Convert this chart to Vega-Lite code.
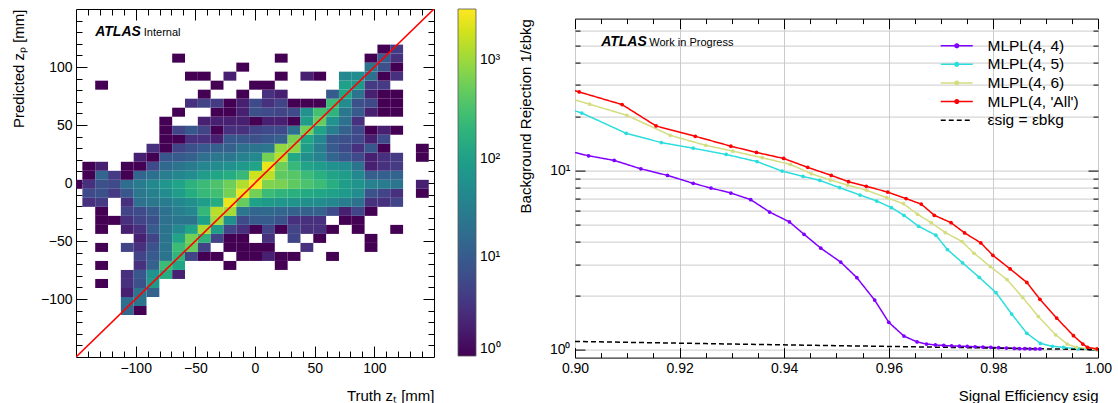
{
  "$schema": "https://vega.github.io/schema/vega-lite/v6.json",
  "padding": {"left": 10, "top": 3, "right": 0, "bottom": 0},
  "background": "white",
  "config": {
    "font": "Liberation Sans",
    "view": {"stroke": "black", "strokeWidth": 1},
    "axis": {"domain": false, "grid": false, "tickColor": "black", "tickWidth": 1, "labelColor": "black", "titleColor": "black", "labelFontSize": 14, "titleFontSize": 15, "titleFontWeight": "normal", "labelFlush": false, "labelOverlap": false, "labelFont": "Liberation Sans", "titleFont": "Liberation Sans"},
    "legend": {"labelFont": "Liberation Sans", "labelColor": "black"}
  },
  "datasets": {
    "hist": [
      {"x":-107.03,"y":-109.92,"n":15},{"x":-96.28,"y":-109.92,"n":1},
      {"x":-107.03,"y":-102.15,"n":18},{"x":-96.28,"y":-102.15,"n":22},
      {"x":-107.03,"y":-94.38,"n":2},{"x":-96.28,"y":-94.38,"n":22},{"x":-85.53,"y":-94.38,"n":12},
      {"x":-128.53,"y":-86.61,"n":1},{"x":-107.03,"y":-86.61,"n":3},{"x":-96.28,"y":-86.61,"n":7},{"x":-85.53,"y":-86.61,"n":80},
      {"x":-107.03,"y":-78.84,"n":3},{"x":-96.28,"y":-78.84,"n":9},{"x":-85.53,"y":-78.84,"n":60},{"x":-74.78,"y":-78.84,"n":150},{"x":-64.03,"y":-78.84,"n":2},
      {"x":-128.53,"y":-71.07,"n":1},{"x":-96.28,"y":-71.07,"n":3},{"x":-85.53,"y":-71.07,"n":12},{"x":-74.78,"y":-71.07,"n":250},{"x":-64.03,"y":-71.07,"n":120},{"x":-21.03,"y":-71.07,"n":1},{"x":21.97,"y":-71.07,"n":1},
      {"x":-96.28,"y":-63.3,"n":5},{"x":-85.53,"y":-63.3,"n":10},{"x":-74.78,"y":-63.3,"n":22},{"x":-64.03,"y":-63.3,"n":200},{"x":-53.28,"y":-63.3,"n":5},{"x":-42.53,"y":-63.3,"n":1},{"x":-31.78,"y":-63.3,"n":1},{"x":-10.28,"y":-63.3,"n":1},{"x":0.47,"y":-63.3,"n":1},{"x":11.22,"y":-63.3,"n":2},{"x":21.97,"y":-63.3,"n":1},{"x":32.72,"y":-63.3,"n":1},{"x":64.97,"y":-63.3,"n":1},
      {"x":-128.53,"y":-55.53,"n":1},{"x":-107.03,"y":-55.53,"n":5},{"x":-96.28,"y":-55.53,"n":3},{"x":-85.53,"y":-55.53,"n":8},{"x":-74.78,"y":-55.53,"n":22},{"x":-64.03,"y":-55.53,"n":250},{"x":-53.28,"y":-55.53,"n":500},{"x":-42.53,"y":-55.53,"n":5},{"x":-21.03,"y":-55.53,"n":1},{"x":-10.28,"y":-55.53,"n":1},{"x":0.47,"y":-55.53,"n":1},{"x":11.22,"y":-55.53,"n":1},{"x":43.47,"y":-55.53,"n":3},{"x":97.22,"y":-55.53,"n":1},
      {"x":-96.28,"y":-47.76,"n":2},{"x":-85.53,"y":-47.76,"n":5},{"x":-74.78,"y":-47.76,"n":22},{"x":-64.03,"y":-47.76,"n":110},{"x":-53.28,"y":-47.76,"n":600},{"x":-42.53,"y":-47.76,"n":200},{"x":-31.78,"y":-47.76,"n":5},{"x":-21.03,"y":-47.76,"n":1},{"x":-10.28,"y":-47.76,"n":1},{"x":11.22,"y":-47.76,"n":3},{"x":32.72,"y":-47.76,"n":5},{"x":54.22,"y":-47.76,"n":1},{"x":97.22,"y":-47.76,"n":1},
      {"x":-128.53,"y":-39.99,"n":1},{"x":-107.03,"y":-39.99,"n":2},{"x":-96.28,"y":-39.99,"n":3},{"x":-85.53,"y":-39.99,"n":10},{"x":-74.78,"y":-39.99,"n":22},{"x":-64.03,"y":-39.99,"n":45},{"x":-53.28,"y":-39.99,"n":110},{"x":-42.53,"y":-39.99,"n":1200},{"x":-31.78,"y":-39.99,"n":90},{"x":-21.03,"y":-39.99,"n":5},{"x":-10.28,"y":-39.99,"n":3},{"x":0.47,"y":-39.99,"n":1},{"x":11.22,"y":-39.99,"n":5},{"x":21.97,"y":-39.99,"n":1},{"x":32.72,"y":-39.99,"n":5},{"x":43.47,"y":-39.99,"n":3},{"x":54.22,"y":-39.99,"n":3},{"x":64.97,"y":-39.99,"n":1},{"x":86.47,"y":-39.99,"n":1},{"x":118.72,"y":-39.99,"n":1},
      {"x":-128.53,"y":-32.22,"n":1},{"x":-117.78,"y":-32.22,"n":1},{"x":-107.03,"y":-32.22,"n":3},{"x":-96.28,"y":-32.22,"n":5},{"x":-85.53,"y":-32.22,"n":7},{"x":-74.78,"y":-32.22,"n":20},{"x":-64.03,"y":-32.22,"n":24},{"x":-53.28,"y":-32.22,"n":22},{"x":-42.53,"y":-32.22,"n":100},{"x":-31.78,"y":-32.22,"n":1100},{"x":-21.03,"y":-32.22,"n":55},{"x":-10.28,"y":-32.22,"n":6},{"x":0.47,"y":-32.22,"n":10},{"x":11.22,"y":-32.22,"n":10},{"x":21.97,"y":-32.22,"n":8},{"x":32.72,"y":-32.22,"n":3},{"x":43.47,"y":-32.22,"n":3},{"x":54.22,"y":-32.22,"n":3},{"x":75.72,"y":-32.22,"n":1},{"x":86.47,"y":-32.22,"n":1},
      {"x":-128.53,"y":-24.45,"n":1},{"x":-107.03,"y":-24.45,"n":5},{"x":-96.28,"y":-24.45,"n":6},{"x":-85.53,"y":-24.45,"n":10},{"x":-74.78,"y":-24.45,"n":20},{"x":-64.03,"y":-24.45,"n":30},{"x":-53.28,"y":-24.45,"n":40},{"x":-42.53,"y":-24.45,"n":220},{"x":-31.78,"y":-24.45,"n":1400},{"x":-21.03,"y":-24.45,"n":1100},{"x":-10.28,"y":-24.45,"n":23},{"x":0.47,"y":-24.45,"n":14},{"x":11.22,"y":-24.45,"n":15},{"x":21.97,"y":-24.45,"n":14},{"x":32.72,"y":-24.45,"n":12},{"x":43.47,"y":-24.45,"n":12},{"x":54.22,"y":-24.45,"n":12},{"x":64.97,"y":-24.45,"n":6},{"x":75.72,"y":-24.45,"n":2},{"x":86.47,"y":-24.45,"n":5},{"x":97.22,"y":-24.45,"n":1},
      {"x":-139.28,"y":-16.68,"n":3},{"x":-128.53,"y":-16.68,"n":4},{"x":-107.03,"y":-16.68,"n":3},{"x":-96.28,"y":-16.68,"n":20},{"x":-85.53,"y":-16.68,"n":25},{"x":-74.78,"y":-16.68,"n":28},{"x":-64.03,"y":-16.68,"n":40},{"x":-53.28,"y":-16.68,"n":55},{"x":-42.53,"y":-16.68,"n":90},{"x":-31.78,"y":-16.68,"n":150},{"x":-21.03,"y":-16.68,"n":2600},{"x":-10.28,"y":-16.68,"n":500},{"x":0.47,"y":-16.68,"n":100},{"x":11.22,"y":-16.68,"n":80},{"x":21.97,"y":-16.68,"n":70},{"x":32.72,"y":-16.68,"n":65},{"x":43.47,"y":-16.68,"n":55},{"x":54.22,"y":-16.68,"n":50},{"x":64.97,"y":-16.68,"n":40},{"x":75.72,"y":-16.68,"n":30},{"x":86.47,"y":-16.68,"n":20},{"x":97.22,"y":-16.68,"n":3},{"x":107.97,"y":-16.68,"n":3},{"x":118.72,"y":-16.68,"n":5},
      {"x":-139.28,"y":-8.91,"n":6},{"x":-128.53,"y":-8.91,"n":7},{"x":-117.78,"y":-8.91,"n":4},{"x":-107.03,"y":-8.91,"n":9},{"x":-96.28,"y":-8.91,"n":25},{"x":-85.53,"y":-8.91,"n":32},{"x":-74.78,"y":-8.91,"n":50},{"x":-64.03,"y":-8.91,"n":85},{"x":-53.28,"y":-8.91,"n":150},{"x":-42.53,"y":-8.91,"n":230},{"x":-31.78,"y":-8.91,"n":280},{"x":-21.03,"y":-8.91,"n":600},{"x":-10.28,"y":-8.91,"n":2600},{"x":0.47,"y":-8.91,"n":600},{"x":11.22,"y":-8.91,"n":250},{"x":21.97,"y":-8.91,"n":200},{"x":32.72,"y":-8.91,"n":170},{"x":43.47,"y":-8.91,"n":140},{"x":54.22,"y":-8.91,"n":120},{"x":64.97,"y":-8.91,"n":100},{"x":75.72,"y":-8.91,"n":80},{"x":86.47,"y":-8.91,"n":50},{"x":97.22,"y":-8.91,"n":8},{"x":107.97,"y":-8.91,"n":5},{"x":118.72,"y":-8.91,"n":3},{"x":140.22,"y":-8.91,"n":1},
      {"x":-150.03,"y":-1.14,"n":1},{"x":-139.28,"y":-1.14,"n":3},{"x":-128.53,"y":-1.14,"n":7},{"x":-117.78,"y":-1.14,"n":6},{"x":-107.03,"y":-1.14,"n":18},{"x":-96.28,"y":-1.14,"n":28},{"x":-85.53,"y":-1.14,"n":45},{"x":-74.78,"y":-1.14,"n":70},{"x":-64.03,"y":-1.14,"n":110},{"x":-53.28,"y":-1.14,"n":180},{"x":-42.53,"y":-1.14,"n":250},{"x":-31.78,"y":-1.14,"n":350},{"x":-21.03,"y":-1.14,"n":550},{"x":-10.28,"y":-1.14,"n":1300},{"x":0.47,"y":-1.14,"n":3300},{"x":11.22,"y":-1.14,"n":700},{"x":21.97,"y":-1.14,"n":650},{"x":32.72,"y":-1.14,"n":450},{"x":43.47,"y":-1.14,"n":330},{"x":54.22,"y":-1.14,"n":250},{"x":64.97,"y":-1.14,"n":160},{"x":75.72,"y":-1.14,"n":90},{"x":86.47,"y":-1.14,"n":65},{"x":97.22,"y":-1.14,"n":35},{"x":107.97,"y":-1.14,"n":28},{"x":118.72,"y":-1.14,"n":23},{"x":140.22,"y":-1.14,"n":2},
      {"x":-139.28,"y":6.63,"n":1},{"x":-128.53,"y":6.63,"n":14},{"x":-117.78,"y":6.63,"n":4},{"x":-107.03,"y":6.63,"n":1},{"x":-96.28,"y":6.63,"n":14},{"x":-85.53,"y":6.63,"n":19},{"x":-74.78,"y":6.63,"n":30},{"x":-64.03,"y":6.63,"n":40},{"x":-53.28,"y":6.63,"n":50},{"x":-42.53,"y":6.63,"n":85},{"x":-31.78,"y":6.63,"n":120},{"x":-21.03,"y":6.63,"n":150},{"x":-10.28,"y":6.63,"n":230},{"x":0.47,"y":6.63,"n":1800},{"x":11.22,"y":6.63,"n":1500},{"x":21.97,"y":6.63,"n":450},{"x":32.72,"y":6.63,"n":400},{"x":43.47,"y":6.63,"n":250},{"x":54.22,"y":6.63,"n":170},{"x":64.97,"y":6.63,"n":110},{"x":75.72,"y":6.63,"n":90},{"x":86.47,"y":6.63,"n":45},{"x":97.22,"y":6.63,"n":11},{"x":107.97,"y":6.63,"n":11},{"x":118.72,"y":6.63,"n":13},
      {"x":-139.28,"y":14.4,"n":1},{"x":-128.53,"y":14.4,"n":2},{"x":-107.03,"y":14.4,"n":1},{"x":-96.28,"y":14.4,"n":1},{"x":-85.53,"y":14.4,"n":6},{"x":-74.78,"y":14.4,"n":15},{"x":-64.03,"y":14.4,"n":22},{"x":-53.28,"y":14.4,"n":28},{"x":-42.53,"y":14.4,"n":40},{"x":-31.78,"y":14.4,"n":50},{"x":-21.03,"y":14.4,"n":57},{"x":-10.28,"y":14.4,"n":80},{"x":0.47,"y":14.4,"n":110},{"x":11.22,"y":14.4,"n":2600},{"x":21.97,"y":14.4,"n":550},{"x":32.72,"y":14.4,"n":230},{"x":43.47,"y":14.4,"n":110},{"x":54.22,"y":14.4,"n":85},{"x":64.97,"y":14.4,"n":60},{"x":75.72,"y":14.4,"n":50},{"x":86.47,"y":14.4,"n":22},{"x":97.22,"y":14.4,"n":2},{"x":107.97,"y":14.4,"n":3},{"x":118.72,"y":14.4,"n":4},
      {"x":-96.28,"y":22.17,"n":2},{"x":-85.53,"y":22.17,"n":1},{"x":-74.78,"y":22.17,"n":9},{"x":-64.03,"y":22.17,"n":10},{"x":-53.28,"y":22.17,"n":12},{"x":-42.53,"y":22.17,"n":20},{"x":-31.78,"y":22.17,"n":25},{"x":-21.03,"y":22.17,"n":25},{"x":-10.28,"y":22.17,"n":35},{"x":0.47,"y":22.17,"n":45},{"x":11.22,"y":22.17,"n":600},{"x":21.97,"y":22.17,"n":1400},{"x":32.72,"y":22.17,"n":130},{"x":43.47,"y":22.17,"n":55},{"x":54.22,"y":22.17,"n":35},{"x":64.97,"y":22.17,"n":14},{"x":75.72,"y":22.17,"n":9},{"x":86.47,"y":22.17,"n":6},{"x":97.22,"y":22.17,"n":2},{"x":107.97,"y":22.17,"n":3},{"x":118.72,"y":22.17,"n":4},{"x":140.22,"y":22.17,"n":1},
      {"x":-85.53,"y":29.94,"n":3},{"x":-74.78,"y":29.94,"n":1},{"x":-64.03,"y":29.94,"n":5},{"x":-53.28,"y":29.94,"n":7},{"x":-42.53,"y":29.94,"n":10},{"x":-31.78,"y":29.94,"n":11},{"x":-21.03,"y":29.94,"n":12},{"x":-10.28,"y":29.94,"n":20},{"x":0.47,"y":29.94,"n":22},{"x":11.22,"y":29.94,"n":25},{"x":21.97,"y":29.94,"n":900},{"x":32.72,"y":29.94,"n":800},{"x":43.47,"y":29.94,"n":90},{"x":54.22,"y":29.94,"n":30},{"x":64.97,"y":29.94,"n":10},{"x":75.72,"y":29.94,"n":6},{"x":86.47,"y":29.94,"n":3},{"x":97.22,"y":29.94,"n":9},{"x":107.97,"y":29.94,"n":1},{"x":140.22,"y":29.94,"n":1},
      {"x":-74.78,"y":37.71,"n":1},{"x":-64.03,"y":37.71,"n":1},{"x":-53.28,"y":37.71,"n":3},{"x":-42.53,"y":37.71,"n":3},{"x":-31.78,"y":37.71,"n":2},{"x":-21.03,"y":37.71,"n":9},{"x":-10.28,"y":37.71,"n":9},{"x":0.47,"y":37.71,"n":7},{"x":11.22,"y":37.71,"n":9},{"x":21.97,"y":37.71,"n":12},{"x":32.72,"y":37.71,"n":650},{"x":43.47,"y":37.71,"n":120},{"x":54.22,"y":37.71,"n":40},{"x":64.97,"y":37.71,"n":9},{"x":75.72,"y":37.71,"n":7},{"x":86.47,"y":37.71,"n":6},{"x":97.22,"y":37.71,"n":2},{"x":107.97,"y":37.71,"n":6},
      {"x":-74.78,"y":45.48,"n":1},{"x":-64.03,"y":45.48,"n":5},{"x":-53.28,"y":45.48,"n":9},{"x":-42.53,"y":45.48,"n":5},{"x":-31.78,"y":45.48,"n":1},{"x":-21.03,"y":45.48,"n":3},{"x":-10.28,"y":45.48,"n":3},{"x":0.47,"y":45.48,"n":5},{"x":11.22,"y":45.48,"n":6},{"x":21.97,"y":45.48,"n":6},{"x":32.72,"y":45.48,"n":20},{"x":43.47,"y":45.48,"n":600},{"x":54.22,"y":45.48,"n":110},{"x":64.97,"y":45.48,"n":30},{"x":75.72,"y":45.48,"n":12},{"x":86.47,"y":45.48,"n":6},{"x":97.22,"y":45.48,"n":1},{"x":107.97,"y":45.48,"n":2},{"x":118.72,"y":45.48,"n":1},
      {"x":-74.78,"y":53.25,"n":1},{"x":-42.53,"y":53.25,"n":2},{"x":-31.78,"y":53.25,"n":2},{"x":-21.03,"y":53.25,"n":2},{"x":-10.28,"y":53.25,"n":2},{"x":0.47,"y":53.25,"n":1},{"x":11.22,"y":53.25,"n":2},{"x":21.97,"y":53.25,"n":2},{"x":32.72,"y":53.25,"n":1},{"x":43.47,"y":53.25,"n":90},{"x":54.22,"y":53.25,"n":500},{"x":64.97,"y":53.25,"n":60},{"x":75.72,"y":53.25,"n":20},{"x":86.47,"y":53.25,"n":3},
      {"x":-64.03,"y":61.02,"n":1},{"x":-31.78,"y":61.02,"n":1},{"x":-21.03,"y":61.02,"n":1},{"x":-10.28,"y":61.02,"n":2},{"x":0.47,"y":61.02,"n":7},{"x":11.22,"y":61.02,"n":6},{"x":21.97,"y":61.02,"n":5},{"x":32.72,"y":61.02,"n":6},{"x":43.47,"y":61.02,"n":60},{"x":54.22,"y":61.02,"n":300},{"x":64.97,"y":61.02,"n":200},{"x":75.72,"y":61.02,"n":25},{"x":86.47,"y":61.02,"n":10},{"x":97.22,"y":61.02,"n":2},{"x":107.97,"y":61.02,"n":1},{"x":118.72,"y":61.02,"n":1},
      {"x":-53.28,"y":68.79,"n":3},{"x":-42.53,"y":68.79,"n":5},{"x":-31.78,"y":68.79,"n":4},{"x":-21.03,"y":68.79,"n":1},{"x":-10.28,"y":68.79,"n":2},{"x":0.47,"y":68.79,"n":6},{"x":11.22,"y":68.79,"n":3},{"x":21.97,"y":68.79,"n":5},{"x":32.72,"y":68.79,"n":1},{"x":43.47,"y":68.79,"n":1},{"x":54.22,"y":68.79,"n":1},{"x":64.97,"y":68.79,"n":250},{"x":75.72,"y":68.79,"n":50},{"x":86.47,"y":68.79,"n":7},{"x":97.22,"y":68.79,"n":6},{"x":107.97,"y":68.79,"n":1},{"x":118.72,"y":68.79,"n":1},
      {"x":-42.53,"y":76.56,"n":1},{"x":-10.28,"y":76.56,"n":1},{"x":11.22,"y":76.56,"n":3},{"x":21.97,"y":76.56,"n":2},{"x":64.97,"y":76.56,"n":10},{"x":75.72,"y":76.56,"n":120},{"x":86.47,"y":76.56,"n":22},{"x":97.22,"y":76.56,"n":2},{"x":107.97,"y":76.56,"n":1},{"x":118.72,"y":76.56,"n":1},
      {"x":-128.53,"y":84.33,"n":1},{"x":-31.78,"y":84.33,"n":1},{"x":0.47,"y":84.33,"n":1},{"x":11.22,"y":84.33,"n":1},{"x":75.72,"y":84.33,"n":100},{"x":86.47,"y":84.33,"n":80},{"x":97.22,"y":84.33,"n":4},{"x":107.97,"y":84.33,"n":4},
      {"x":-53.28,"y":92.1,"n":1},{"x":-42.53,"y":92.1,"n":1},{"x":-21.03,"y":92.1,"n":2},{"x":21.97,"y":92.1,"n":1},{"x":43.47,"y":92.1,"n":2},{"x":54.22,"y":92.1,"n":1},{"x":75.72,"y":92.1,"n":45},{"x":86.47,"y":92.1,"n":50},{"x":97.22,"y":92.1,"n":20},{"x":107.97,"y":92.1,"n":1},{"x":118.72,"y":92.1,"n":3},
      {"x":-10.28,"y":99.87,"n":1},{"x":97.22,"y":99.87,"n":22},{"x":107.97,"y":99.87,"n":7},{"x":118.72,"y":99.87,"n":1},
      {"x":-64.03,"y":107.64,"n":1},{"x":21.97,"y":107.64,"n":1},{"x":97.22,"y":107.64,"n":1},{"x":107.97,"y":107.64,"n":10},{"x":118.72,"y":107.64,"n":3},
      {"x":107.97,"y":115.41,"n":1},{"x":118.72,"y":115.41,"n":4}
    ],
    "diag": [{"t": -150}, {"t": 150}],
    "roc": [
      {"series":"MLPL(4, 4)","eff":0.895,"rej":13.6},
      {"series":"MLPL(4, 4)","eff":0.9026,"rej":12.07},
      {"series":"MLPL(4, 4)","eff":0.9075,"rej":11.37},
      {"series":"MLPL(4, 4)","eff":0.9126,"rej":10.2},
      {"series":"MLPL(4, 4)","eff":0.9177,"rej":9.38},
      {"series":"MLPL(4, 4)","eff":0.9226,"rej":8.47},
      {"series":"MLPL(4, 4)","eff":0.926,"rej":7.97},
      {"series":"MLPL(4, 4)","eff":0.9298,"rej":7.48},
      {"series":"MLPL(4, 4)","eff":0.9336,"rej":6.87},
      {"series":"MLPL(4, 4)","eff":0.9372,"rej":5.86},
      {"series":"MLPL(4, 4)","eff":0.941,"rej":5.16},
      {"series":"MLPL(4, 4)","eff":0.9438,"rej":4.4},
      {"series":"MLPL(4, 4)","eff":0.947,"rej":3.68},
      {"series":"MLPL(4, 4)","eff":0.9508,"rej":3.08},
      {"series":"MLPL(4, 4)","eff":0.9539,"rej":2.52},
      {"series":"MLPL(4, 4)","eff":0.9573,"rej":1.89},
      {"series":"MLPL(4, 4)","eff":0.96,"rej":1.42},
      {"series":"MLPL(4, 4)","eff":0.9629,"rej":1.19},
      {"series":"MLPL(4, 4)","eff":0.9654,"rej":1.105},
      {"series":"MLPL(4, 4)","eff":0.9672,"rej":1.075},
      {"series":"MLPL(4, 4)","eff":0.9689,"rej":1.062},
      {"series":"MLPL(4, 4)","eff":0.9705,"rej":1.055},
      {"series":"MLPL(4, 4)","eff":0.972,"rej":1.05},
      {"series":"MLPL(4, 4)","eff":0.9735,"rej":1.046},
      {"series":"MLPL(4, 4)","eff":0.975,"rej":1.042},
      {"series":"MLPL(4, 4)","eff":0.9765,"rej":1.038},
      {"series":"MLPL(4, 4)","eff":0.978,"rej":1.034},
      {"series":"MLPL(4, 4)","eff":0.9795,"rej":1.03},
      {"series":"MLPL(4, 4)","eff":0.981,"rej":1.025},
      {"series":"MLPL(4, 4)","eff":0.9825,"rej":1.02},
      {"series":"MLPL(4, 4)","eff":0.984,"rej":1.016},
      {"series":"MLPL(4, 4)","eff":0.985,"rej":1.013},
      {"series":"MLPL(4, 4)","eff":0.986,"rej":1.012},
      {"series":"MLPL(4, 4)","eff":0.987,"rej":1.011},
      {"series":"MLPL(4, 4)","eff":0.988,"rej":1.01},
      {"series":"MLPL(4, 4)","eff":0.9889,"rej":1.01},
      {"series":"MLPL(4, 5)","eff":0.895,"rej":23.9},
      {"series":"MLPL(4, 5)","eff":0.9013,"rej":20.9},
      {"series":"MLPL(4, 5)","eff":0.9098,"rej":16.1},
      {"series":"MLPL(4, 5)","eff":0.9165,"rej":14.3},
      {"series":"MLPL(4, 5)","eff":0.9226,"rej":13.3},
      {"series":"MLPL(4, 5)","eff":0.9289,"rej":12.27},
      {"series":"MLPL(4, 5)","eff":0.9348,"rej":11.2},
      {"series":"MLPL(4, 5)","eff":0.9396,"rej":9.91},
      {"series":"MLPL(4, 5)","eff":0.9436,"rej":9.26},
      {"series":"MLPL(4, 5)","eff":0.9468,"rej":8.8},
      {"series":"MLPL(4, 5)","eff":0.9506,"rej":8.01},
      {"series":"MLPL(4, 5)","eff":0.9545,"rej":7.29},
      {"series":"MLPL(4, 5)","eff":0.9577,"rej":6.75},
      {"series":"MLPL(4, 5)","eff":0.9605,"rej":6.2},
      {"series":"MLPL(4, 5)","eff":0.9629,"rej":5.62},
      {"series":"MLPL(4, 5)","eff":0.9657,"rej":4.88},
      {"series":"MLPL(4, 5)","eff":0.969,"rej":4.35},
      {"series":"MLPL(4, 5)","eff":0.9712,"rej":3.62},
      {"series":"MLPL(4, 5)","eff":0.9741,"rej":3.05},
      {"series":"MLPL(4, 5)","eff":0.9773,"rej":2.53},
      {"series":"MLPL(4, 5)","eff":0.9805,"rej":2.08},
      {"series":"MLPL(4, 5)","eff":0.9835,"rej":1.58},
      {"series":"MLPL(4, 5)","eff":0.9864,"rej":1.233},
      {"series":"MLPL(4, 5)","eff":0.989,"rej":1.084},
      {"series":"MLPL(4, 5)","eff":0.9913,"rej":1.044},
      {"series":"MLPL(4, 5)","eff":0.9934,"rej":1.03},
      {"series":"MLPL(4, 5)","eff":0.9962,"rej":1.01},
      {"series":"MLPL(4, 5)","eff":0.9998,"rej":1.0},
      {"series":"MLPL(4, 6)","eff":0.895,"rej":27.3},
      {"series":"MLPL(4, 6)","eff":0.9028,"rej":23.4},
      {"series":"MLPL(4, 6)","eff":0.9099,"rej":20.3},
      {"series":"MLPL(4, 6)","eff":0.9182,"rej":15.7},
      {"series":"MLPL(4, 6)","eff":0.925,"rej":13.8},
      {"series":"MLPL(4, 6)","eff":0.9302,"rej":12.8},
      {"series":"MLPL(4, 6)","eff":0.9358,"rej":11.77},
      {"series":"MLPL(4, 6)","eff":0.9412,"rej":10.8},
      {"series":"MLPL(4, 6)","eff":0.9452,"rej":9.58},
      {"series":"MLPL(4, 6)","eff":0.9488,"rej":8.84},
      {"series":"MLPL(4, 6)","eff":0.9521,"rej":8.28},
      {"series":"MLPL(4, 6)","eff":0.9558,"rej":7.74},
      {"series":"MLPL(4, 6)","eff":0.9596,"rej":7.04},
      {"series":"MLPL(4, 6)","eff":0.9628,"rej":6.52},
      {"series":"MLPL(4, 6)","eff":0.9655,"rej":5.69},
      {"series":"MLPL(4, 6)","eff":0.9681,"rej":5.11},
      {"series":"MLPL(4, 6)","eff":0.9708,"rej":4.5},
      {"series":"MLPL(4, 6)","eff":0.974,"rej":4.01},
      {"series":"MLPL(4, 6)","eff":0.9763,"rej":3.45},
      {"series":"MLPL(4, 6)","eff":0.9794,"rej":2.91},
      {"series":"MLPL(4, 6)","eff":0.9826,"rej":2.46},
      {"series":"MLPL(4, 6)","eff":0.9856,"rej":1.956},
      {"series":"MLPL(4, 6)","eff":0.9886,"rej":1.53},
      {"series":"MLPL(4, 6)","eff":0.9919,"rej":1.21},
      {"series":"MLPL(4, 6)","eff":0.9941,"rej":1.075},
      {"series":"MLPL(4, 6)","eff":0.9959,"rej":1.03},
      {"series":"MLPL(4, 6)","eff":0.9998,"rej":1.0},
      {"series":"MLPL(4, 'All')","eff":0.895,"rej":30.5},
      {"series":"MLPL(4, 'All')","eff":0.9008,"rej":27.4},
      {"series":"MLPL(4, 'All')","eff":0.909,"rej":23.3},
      {"series":"MLPL(4, 'All')","eff":0.9155,"rej":17.7},
      {"series":"MLPL(4, 'All')","eff":0.923,"rej":15.5},
      {"series":"MLPL(4, 'All')","eff":0.9298,"rej":13.65},
      {"series":"MLPL(4, 'All')","eff":0.9347,"rej":12.6},
      {"series":"MLPL(4, 'All')","eff":0.9399,"rej":11.66},
      {"series":"MLPL(4, 'All')","eff":0.9445,"rej":10.4},
      {"series":"MLPL(4, 'All')","eff":0.949,"rej":9.38},
      {"series":"MLPL(4, 'All')","eff":0.9523,"rej":8.65},
      {"series":"MLPL(4, 'All')","eff":0.9557,"rej":8.15},
      {"series":"MLPL(4, 'All')","eff":0.9598,"rej":7.57},
      {"series":"MLPL(4, 'All')","eff":0.9633,"rej":6.96},
      {"series":"MLPL(4, 'All')","eff":0.9662,"rej":6.49},
      {"series":"MLPL(4, 'All')","eff":0.9687,"rej":5.62},
      {"series":"MLPL(4, 'All')","eff":0.9719,"rej":5.11},
      {"series":"MLPL(4, 'All')","eff":0.9745,"rej":4.48},
      {"series":"MLPL(4, 'All')","eff":0.9776,"rej":3.94},
      {"series":"MLPL(4, 'All')","eff":0.9799,"rej":3.36},
      {"series":"MLPL(4, 'All')","eff":0.9832,"rej":2.82},
      {"series":"MLPL(4, 'All')","eff":0.9864,"rej":2.37},
      {"series":"MLPL(4, 'All')","eff":0.9889,"rej":1.91},
      {"series":"MLPL(4, 'All')","eff":0.9921,"rej":1.5},
      {"series":"MLPL(4, 'All')","eff":0.9953,"rej":1.197},
      {"series":"MLPL(4, 'All')","eff":0.9971,"rej":1.075},
      {"series":"MLPL(4, 'All')","eff":0.998,"rej":1.03},
      {"series":"MLPL(4, 'All')","eff":0.9998,"rej":1.01},
      {"series":"εsig = εbkg","eff":0.9,"rej":1.111},
      {"series":"εsig = εbkg","eff":0.925,"rej":1.081},
      {"series":"εsig = εbkg","eff":0.95,"rej":1.053},
      {"series":"εsig = εbkg","eff":0.975,"rej":1.026},
      {"series":"εsig = εbkg","eff":1.0,"rej":1.0}
    ]
  },
  "resolve": {"scale": {"color": "independent"}, "legend": {"color": "independent"}},
  "spacing": 15,
  "hconcat": [
    {
      "width": 358,
      "height": 348,
      "layer": [
        {
          "data": {"name": "hist"},
          "mark": {"type": "point", "shape": "M-1.424,-1H1.424V1H-1.424Z", "size": 81.2, "filled": true, "opacity": 1, "strokeWidth": 0, "clip": true},
          "encoding": {
            "x": {"field": "x", "type": "quantitative", "scale": {"domain": [-150, 150], "nice": false, "zero": false},
              "axis": {"orient": "bottom", "values": [-140,-130,-120,-110,-100,-90,-80,-70,-60,-50,-40,-30,-20,-10,0,10,20,30,40,50,60,70,80,90,100,110,120,130,140],
                "labelExpr": "datum.value % 50 === 0 ? datum.label : ''",
                "tickSize": {"condition": {"test": "datum.value % 50 === 0", "value": -11}, "value": -6},
                "labelPadding": 15, "title": "Truth zₜ [mm]", "titleAnchor": "end", "titlePadding": 8}},
            "y": {"field": "y", "type": "quantitative", "scale": {"domain": [-150, 150], "nice": false, "zero": false},
              "axis": {"orient": "left", "values": [-140,-130,-120,-110,-100,-90,-80,-70,-60,-50,-40,-30,-20,-10,0,10,20,30,40,50,60,70,80,90,100,110,120,130,140],
                "labelExpr": "datum.value % 50 === 0 ? datum.label : ''",
                "tickSize": {"condition": {"test": "datum.value % 50 === 0", "value": -11}, "value": -6},
                "labelPadding": 15, "title": "Predicted zₚ [mm]", "titleAnchor": "end", "titlePadding": 14}},
            "color": {"field": "n", "type": "quantitative", "scale": {"type": "log", "domain": [1, 3300], "scheme": "viridis"},
              "legend": {"title": null, "orient": "right", "offset": 23, "gradientLength": 347, "gradientThickness": 18, "values": [1, 10, 100, 1000],
                "labelExpr": "datum.value === 1 ? '10⁰' : datum.value === 10 ? '10¹' : datum.value === 100 ? '10²' : '10³'",
                "labelFontSize": 14, "labelOffset": 4, "gradientStrokeColor": "#555", "gradientStrokeWidth": 0.8, "labelOverlap": false, "padding": 0}}
          }
        },
        {
          "data": {"name": "diag"},
          "mark": {"type": "line", "color": "#ff0000", "strokeWidth": 1.6, "clip": true},
          "encoding": {
            "x": {"field": "t", "type": "quantitative",
              "axis": {"orient": "top", "values": [-140,-130,-120,-110,-100,-90,-80,-70,-60,-50,-40,-30,-20,-10,0,10,20,30,40,50,60,70,80,90,100,110,120,130,140],
                "labels": false, "title": null,
                "tickSize": {"condition": {"test": "datum.value % 50 === 0", "value": -11}, "value": -6}}},
            "y": {"field": "t", "type": "quantitative",
              "axis": {"orient": "right", "values": [-140,-130,-120,-110,-100,-90,-80,-70,-60,-50,-40,-30,-20,-10,0,10,20,30,40,50,60,70,80,90,100,110,120,130,140],
                "labels": false, "title": null,
                "tickSize": {"condition": {"test": "datum.value % 50 === 0", "value": -11}, "value": -6}}}
          }
        },
        {
          "data": {"values": [{}]},
          "mark": {"type": "text", "text": "ATLAS", "fontStyle": "italic", "fontWeight": "bold", "fontSize": 14, "align": "left", "baseline": "alphabetic", "color": "black"},
          "encoding": {"x": {"datum": -133.9, "type": "quantitative", "axis": null}, "y": {"datum": 126.5, "type": "quantitative", "axis": null}}
        },
        {
          "data": {"values": [{}]},
          "mark": {"type": "text", "text": "Internal", "fontSize": 11, "align": "left", "baseline": "alphabetic", "color": "black"},
          "encoding": {"x": {"datum": -93.2, "type": "quantitative", "axis": null}, "y": {"datum": 126.5, "type": "quantitative", "axis": null}}
        }
      ],
      "resolve": {"axis": {"x": "independent", "y": "independent"}}
    },
    {
      "spacing": 2.6,
      "vconcat": [
        {
          "data": {"values": [{}]},
          "width": 523,
          "height": 1,
          "view": {"stroke": null},
          "mark": {"type": "text", "text": " "}
        },
        {
          "width": 523,
          "height": 339,
          "layer": [
            {
              "data": {"name": "roc"},
              "mark": {"type": "line", "strokeWidth": 1.5, "clip": true},
              "encoding": {
                "x": {"field": "eff", "type": "quantitative", "scale": {"domain": [0.9, 1.0], "nice": false, "zero": false},
                  "axis": {"orient": "bottom", "values": [0.9,0.905,0.91,0.915,0.92,0.925,0.93,0.935,0.94,0.945,0.95,0.955,0.96,0.965,0.97,0.975,0.98,0.985,0.99,0.995,1.0],
                    "format": ".2f",
                    "labelExpr": "round(datum.value*1000) % 20 === 0 ? datum.label : ''",
                    "tickSize": {"condition": {"test": "round(datum.value*1000) % 20 === 0", "value": -10}, "value": -5},
                    "labelPadding": 14, "grid": true, "gridColor": "#cccccc",
                    "gridOpacity": {"condition": {"test": "round(datum.value*1000) % 20 === 0", "value": 1}, "value": 0},
                    "title": "Signal Efficiency εsig", "titleAnchor": "end", "titlePadding": 8}},
                "y": {"field": "rej", "type": "quantitative", "scale": {"type": "log", "domain": [0.903, 70.3], "nice": false},
                  "axis": {"orient": "left", "values": [1,2,3,4,5,6,7,8,9,10,20,30,40,50,60],
                    "labelExpr": "datum.value === 1 ? '10⁰' : datum.value === 10 ? '10¹' : ''",
                    "tickSize": {"condition": {"test": "datum.value === 1 || datum.value === 10", "value": -10}, "value": -5},
                    "labelPadding": 15, "grid": true, "gridColor": "#cccccc",
                    "title": "Background Rejection 1/εbkg", "titleAnchor": "end", "titlePadding": 16}},
                "color": {"field": "series", "type": "nominal",
                  "scale": {"domain": ["MLPL(4, 4)", "MLPL(4, 5)", "MLPL(4, 6)", "MLPL(4, 'All')", "εsig = εbkg"], "range": ["#8000ff", "#2bdddd", "#d4dd80", "#ff0000", "#000000"]},
                  "legend": {"title": null, "orient": "none", "legendX": 374, "legendY": 29, "symbolSize": 64, "symbolType": "M-4,0H4M-0.3,0A0.3,0.3,0,1,1,0.3,0A0.3,0.3,0,1,1,-0.3,0Z", "symbolStrokeWidth": 1.5,
                    "labelFontSize": 15.5, "labelOffset": 23, "rowPadding": 1.6, "padding": 0, "labelLimit": 400,
                    "encode": {"symbols": {"update": {
                      "shape": {"signal": "datum.value === 'εsig = εbkg' ? 'M-4,0H4' : 'M-4,0H4M-0.45,0A0.45,0.45,0,1,1,0.45,0A0.45,0.45,0,1,1,-0.45,0Z'"},
                      "fill": {"signal": "datum.value === 'MLPL(4, 4)' ? '#8000ff' : datum.value === 'MLPL(4, 5)' ? '#2bdddd' : datum.value === 'MLPL(4, 6)' ? '#d4dd80' : datum.value === 'εsig = εbkg' ? 'transparent' : '#ff0000'"},
                      "strokeDash": {"signal": "datum.value === 'εsig = εbkg' ? [5, 3] : [1, 0]"},
                      "strokeWidth": {"value": 1.5}
                    }}}}},
                "strokeDash": {"field": "series", "type": "nominal",
                  "scale": {"domain": ["MLPL(4, 4)", "MLPL(4, 5)", "MLPL(4, 6)", "MLPL(4, 'All')", "εsig = εbkg"], "range": [[1, 0], [1, 0], [1, 0], [1, 0], [5, 3]]},
                  "legend": null}
              }
            },
            {
              "data": {"name": "roc"},
              "transform": [{"filter": "datum.series !== 'εsig = εbkg'"}],
              "mark": {"type": "point", "filled": true, "size": 14, "opacity": 1, "clip": true},
              "encoding": {
                "x": {"field": "eff", "type": "quantitative",
                  "axis": {"orient": "top", "values": [0.9,0.905,0.91,0.915,0.92,0.925,0.93,0.935,0.94,0.945,0.95,0.955,0.96,0.965,0.97,0.975,0.98,0.985,0.99,0.995,1.0],
                    "labels": false, "title": null,
                    "tickSize": {"condition": {"test": "round(datum.value*1000) % 20 === 0", "value": -10}, "value": -5}}},
                "y": {"field": "rej", "type": "quantitative",
                  "axis": {"orient": "right", "values": [1,2,3,4,5,6,7,8,9,10,20,30,40,50,60],
                    "labels": false, "title": null,
                    "tickSize": {"condition": {"test": "datum.value === 1 || datum.value === 10", "value": -10}, "value": -5}}},
                "color": {"field": "series", "type": "nominal", "legend": null}
              }
            },
            {
              "data": {"values": [{}]},
              "mark": {"type": "text", "text": "ATLAS", "fontStyle": "italic", "fontWeight": "bold", "fontSize": 14, "align": "left", "baseline": "alphabetic", "color": "black"},
              "encoding": {"x": {"datum": 0.905, "type": "quantitative", "axis": null}, "y": {"datum": 49.6, "type": "quantitative", "axis": null}}
            },
            {
              "data": {"values": [{}]},
              "mark": {"type": "text", "text": "Work in Progress", "fontSize": 11, "align": "left", "baseline": "alphabetic", "color": "black"},
              "encoding": {"x": {"datum": 0.9142, "type": "quantitative", "axis": null}, "y": {"datum": 49.6, "type": "quantitative", "axis": null}}
            }
          ],
          "resolve": {"axis": {"x": "independent", "y": "independent"}}
        }
      ]
    }
  ]
}
